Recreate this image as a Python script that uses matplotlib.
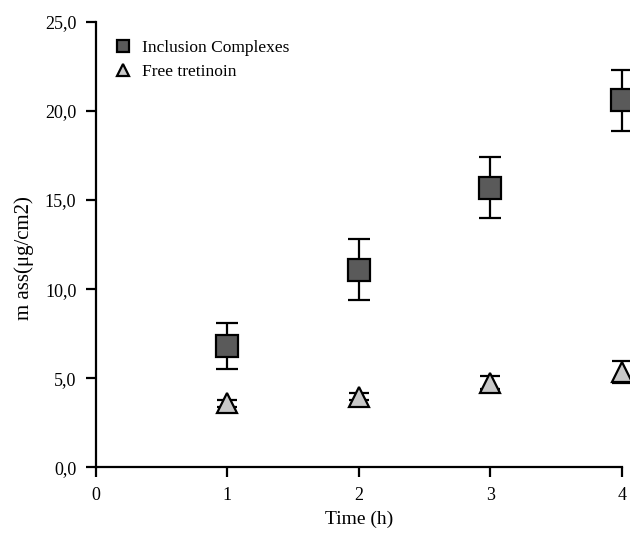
import matplotlib
matplotlib.use("Agg")
import matplotlib.pyplot as plt
from matplotlib.ticker import FuncFormatter

time_h = [1, 2, 3, 4]
inclusion = [6.8, 11.1, 15.7, 20.6]
inclusion_err = [1.3, 1.7, 1.7, 1.7]
free_tret = [3.6, 3.95, 4.75, 5.35]
free_err = [0.2, 0.2, 0.35, 0.6]

plt.rcParams["font.family"] = ["Liberation Serif", "DejaVu Serif"]

fig = plt.figure(figsize=(6.3, 5.37), dpi=100)
ax = fig.add_axes([0.152, 0.130, 0.835, 0.829])

ax.errorbar(time_h, inclusion, yerr=inclusion_err, fmt="s", ms=16, mfc="#5a5a5a",
            mec="black", mew=1.6, ecolor="black", elinewidth=1.6, capsize=8, capthick=1.6,
            label="Inclusion Complexes", clip_on=False, zorder=3)
ax.errorbar(time_h, free_tret, yerr=free_err, fmt="^", ms=15, mfc="#c8c8c8",
            mec="black", mew=1.6, ecolor="black", elinewidth=1.6, capsize=7, capthick=1.6,
            label="Free tretinoin", clip_on=False, zorder=3)

ax.set_xlim(0, 4)
ax.set_ylim(0, 25)
ax.set_xticks([0, 1, 2, 3, 4])
ax.set_yticks([0, 5, 10, 15, 20, 25])
ax.yaxis.set_major_formatter(FuncFormatter(lambda v, p: f"{v:.1f}".replace(".", ",")))
ax.spines["top"].set_visible(False)
ax.spines["right"].set_visible(False)
for s in ("left", "bottom"):
    ax.spines[s].set_linewidth(1.6)
ax.tick_params(direction="out", length=7, width=1.6, labelsize=13, pad=7)

ax.set_xlabel("Time (h)", fontsize=14, labelpad=5)
ax.set_ylabel("m ass(\u03bcg/cm2)", fontsize=15)
ax.yaxis.set_label_coords(-0.118, 0.47)

handles, labels = ax.get_legend_handles_labels()
handles = [h[0] for h in handles]
leg = ax.legend(handles, labels, loc="upper left", frameon=False, fontsize=12.5,
                markerscale=0.55, handletextpad=0.3, labelspacing=0.45,
                handlelength=1.6, bbox_to_anchor=(-0.005, 0.995))

fig.savefig("out.png", dpi=100)
